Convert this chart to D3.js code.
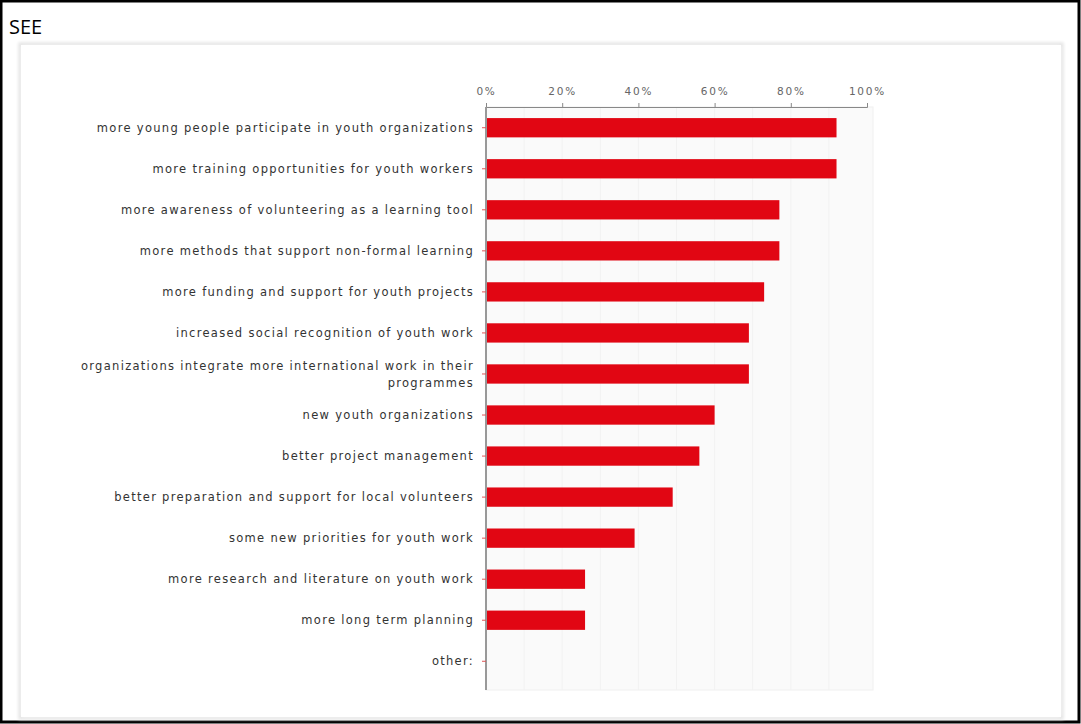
<!DOCTYPE html>
<html>
<head>
<meta charset="utf-8">
<script src="https://cdn.jsdelivr.net/npm/d3@7"></script>
<style>
  html, body { margin: 0; padding: 0; background: #fff; }
  svg { display: block; }
</style>
</head>
<body>
<svg id="chart" width="1081" height="724"></svg>
<script>
const categories = [
  "more young people participate in youth organizations",
  "more training opportunities for youth workers",
  "more awareness of volunteering as a learning tool",
  "more methods that support non-formal learning",
  "more funding and support for youth projects",
  "increased social recognition of youth work",
  "organizations integrate more international work in their|programmes",
  "new youth organizations",
  "better project management",
  "better preparation and support for local volunteers",
  "some new priorities for youth work",
  "more research and literature on youth work",
  "more long term planning",
  "other:"
];
const values = [92, 92, 77, 77, 73, 69, 69, 60, 56, 49, 39, 26, 26, 0];
const tickValues = [0, 20, 40, 60, 80, 100];
const title = "SEE";

(function () {
const svg = d3.select("#chart");
const W = 1081, H = 724;

// outer black frame
svg.append("rect").attr("x", 1).attr("y", 1).attr("width", W - 3).attr("height", H - 3)
  .attr("fill", "#fff").attr("stroke", "#000").attr("stroke-width", 3);

svg.append("text").attr("x", 9).attr("y", 34)
  .attr("font-family", "Open Sans, sans-serif").attr("font-size", 20)
  .attr("fill", "#000").text(title);

// inner panel with soft shadow
const defs = svg.append("defs");
const f = defs.append("filter").attr("id", "sh").attr("x", "-5%").attr("y", "-5%").attr("width", "110%").attr("height", "110%");
f.append("feGaussianBlur").attr("stdDeviation", 1.5);
svg.append("rect").attr("x", 20).attr("y", 44).attr("width", 1042).attr("height", 674)
  .attr("fill", "none").attr("stroke", "#e2e2e2").attr("stroke-width", 3).attr("filter", "url(#sh)");
svg.append("rect").attr("x", 21).attr("y", 45).attr("width", 1040).attr("height", 672)
  .attr("fill", "#fff");

const pL = 486, pR = 867, pT = 107, pB = 682;
const x = d3.scaleLinear().domain([0, 100]).range([pL, pR]);
const y = d3.scaleBand().domain(categories).range([pT, pB]).paddingInner(0.53).paddingOuter(0.27);

// plot background
svg.append("rect").attr("x", pL).attr("y", pT).attr("width", 387).attr("height", 583)
  .attr("fill", "#fafafa").attr("stroke", "#f0f0f0");

// faint gridlines
svg.append("g").selectAll("line").data(d3.range(10, 100, 10)).join("line")
  .attr("x1", d => x(d)).attr("x2", d => x(d)).attr("y1", pT).attr("y2", 690)
  .attr("stroke", "#f2f2f2").attr("stroke-width", 1);

// bars
svg.append("g").selectAll("rect").data(values).join("rect")
  .attr("x", x(0))
  .attr("y", (d, i) => y(categories[i]))
  .attr("width", d => x(d) - x(0))
  .attr("height", y.bandwidth())
  .attr("fill", "#e10613");

// top axis
const xAxis = d3.axisTop(x).tickValues(tickValues).tickFormat(d => d + "%").tickSize(4).tickSizeOuter(4);
const gx = svg.append("g").attr("transform", `translate(0,${pT})`).call(xAxis);
gx.select(".domain").attr("stroke", "#888");
gx.selectAll(".tick line").attr("stroke", "#888");
gx.selectAll(".tick text").attr("font-family", "DejaVu Sans, sans-serif").attr("font-size", 10.5)
  .attr("letter-spacing", "1.8px")
  .attr("fill", "#666").attr("dy", "-0.45em");

// left axis
const yAxis = d3.axisLeft(y).tickSize(4).tickSizeOuter(0).tickFormat("");
const gy = svg.append("g").attr("transform", `translate(${pL},0)`).call(yAxis);
gy.select(".domain").attr("stroke", "#999").attr("stroke-width", 2)
  .attr("d", `M0,${pT}V690`);
gy.selectAll(".tick line").attr("stroke", "#d55");

// labels
const lab = svg.append("g").selectAll("text").data(categories).join("text")
  .attr("x", pL - 12)
  .attr("y", d => y(d) + y.bandwidth() / 2)
  .attr("text-anchor", "end")
  .attr("font-family", "DejaVu Sans, sans-serif")
  .attr("font-size", 11.5)
  .attr("letter-spacing", "1.3px")
  .attr("fill", "#333");
lab.each(function(d) {
  const parts = d.split("|");
  const t = d3.select(this);
  const n = parts.length;
  parts.forEach((p, k) => {
    t.append("tspan").attr("x", pL - 12)
      .attr("dy", k === 0 ? ((-(n - 1) * 0.7 + 0.35) + "em") : "1.45em")
      .text(p);
  });
});
})();
</script>
</body>
</html>
